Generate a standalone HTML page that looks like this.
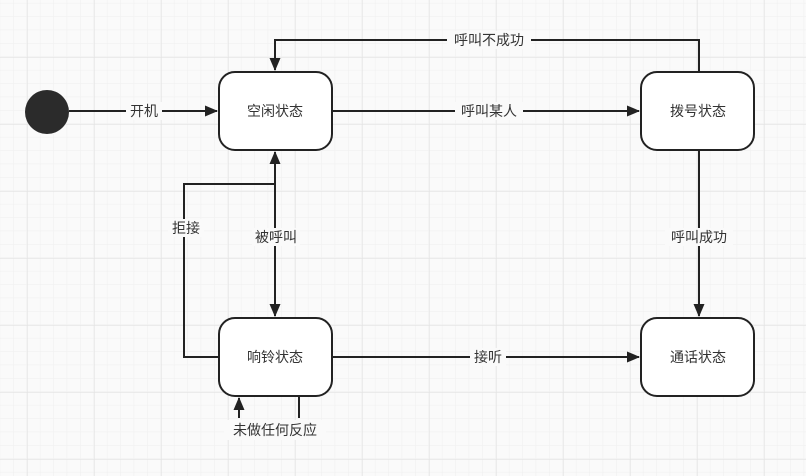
<!DOCTYPE html>
<html><head><meta charset="utf-8"><style>
html,body{margin:0;padding:0;background:#fafafa;}
svg{display:block;}
text{font-family:"Liberation Sans","Noto Sans CJK SC",sans-serif;font-size:14px;fill:#333;}
</style></head><body>
<svg width="806" height="476" viewBox="0 0 806 476" xmlns="http://www.w3.org/2000/svg">
<defs>
<pattern id="minor" width="13.4" height="13.4" patternUnits="userSpaceOnUse" x="0.2" y="3.4">
<path d="M13.4 0V13.4M0 13.4H13.4" stroke="#efefef" stroke-width="1" fill="none"/>
</pattern>
<pattern id="major" width="67" height="67" patternUnits="userSpaceOnUse" x="27" y="57">
<path d="M0 0V67M0 0H67" stroke="#e2e2e2" stroke-width="1.2" fill="none"/>
</pattern>
<marker id="a" markerWidth="13" markerHeight="11" refX="12" refY="5.5" orient="auto" markerUnits="userSpaceOnUse">
<path d="M0 0L13 5.5L0 11Z" fill="#222"/>
</marker>
</defs>
<rect width="806" height="476" fill="#fafafa"/>
<rect width="806" height="476" fill="url(#minor)"/>
<rect width="806" height="476" fill="url(#major)"/>
<g stroke="#222" stroke-width="2" fill="none">
<path d="M69 111H217" marker-end="url(#a)"/>
<path d="M332 111H639" marker-end="url(#a)"/>
<path d="M699 72V40H275V70" marker-end="url(#a)"/>
<path d="M699 150V316" marker-end="url(#a)"/>
<path d="M332 357H639" marker-end="url(#a)"/>
<path d="M275 184V316" marker-end="url(#a)"/>
<path d="M219 357H184V184H275V152" marker-end="url(#a)"/>
<path d="M239 418V398" marker-end="url(#a)"/>
<path d="M299 396V418"/>
</g>
<circle cx="47" cy="112" r="22" fill="#2b2b2b"/>
<g fill="#fff" stroke="#222" stroke-width="2">
<rect x="219" y="72" width="113" height="78" rx="16"/>
<rect x="641" y="72" width="113" height="78" rx="16"/>
<rect x="219" y="318" width="113" height="78" rx="16"/>
<rect x="641" y="318" width="113" height="78" rx="16"/>
</g>
<g text-anchor="middle">
<text x="275" y="116">空闲状态</text>
<text x="698" y="116">拨号状态</text>
<text x="275" y="362">响铃状态</text>
<text x="698" y="362">通话状态</text>
</g>
<g text-anchor="middle">
<rect x="126" y="102" width="36" height="18" fill="#fafafa"/><text x="144" y="116">开机</text>
<rect x="455" y="102" width="68" height="18" fill="#fafafa"/><text x="489" y="116">呼叫某人</text>
<rect x="447" y="31" width="84" height="18" fill="#fafafa"/><text x="489" y="45">呼叫不成功</text>
<rect x="665" y="228" width="68" height="18" fill="#fafafa"/><text x="699" y="242">呼叫成功</text>
<rect x="470" y="348" width="36" height="18" fill="#fafafa"/><text x="488" y="362">接听</text>
<rect x="252" y="228" width="48" height="18" fill="#fafafa"/><text x="276" y="242">被呼叫</text>
<rect x="168" y="219" width="36" height="18" fill="#fafafa"/><text x="186" y="233">拒接</text>
<rect x="224" y="420" width="102" height="20" fill="#fafafa"/><text x="275" y="435">未做任何反应</text>
</g>
</svg>
</body></html>
